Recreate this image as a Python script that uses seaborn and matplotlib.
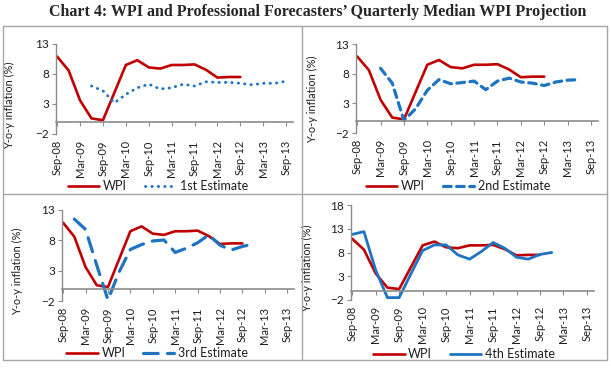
import numpy as np
import pandas as pd
import seaborn as sns
import matplotlib
matplotlib.use('Agg')
import matplotlib.pyplot as plt
from matplotlib.lines import Line2D

nan = np.nan

# Quarterly categories and values
quarters = ['Sep-08', 'Dec-08', 'Mar-09', 'Jun-09', 'Sep-09', 'Dec-09', 'Mar-10',
            'Jun-10', 'Sep-10', 'Dec-10', 'Mar-11', 'Jun-11', 'Sep-11', 'Dec-11',
            'Mar-12', 'Jun-12', 'Sep-12', 'Dec-12', 'Mar-13', 'Jun-13', 'Sep-13']

wpi = [10.9, 8.6, 3.6, 0.6, 0.3, 4.9, 9.5, 10.3, 9.1, 8.9, 9.5, 9.5, 9.6, 8.7,
       7.4, 7.5, 7.5, nan, nan, nan, nan]
est1 = [nan, nan, nan, 6.0, 5.2, 3.2, 4.6, 5.7, 6.3, 5.5, 5.7, 6.3, 6.0, 6.7,
        6.6, 6.6, 6.45, 6.2, 6.45, 6.45, 6.8]
est2 = [nan, nan, 8.9, 6.4, 0.1, 2.1, 5.2, 7.0, 6.3, 6.5, 6.75, 5.3, 6.75, 7.25,
        6.6, 6.4, 6.0, 6.6, 6.9, 7.0, nan]
est3 = [nan, 11.5, 9.8, 3.9, -1.8, 2.8, 6.5, 7.3, 7.9, 8.05, 6.0, 6.7, 7.6, 8.9,
        7.2, 6.4, 7.0, 7.4, nan, nan, nan]
est4 = [11.8, 12.4, 4.3, -1.5, -1.5, 3.5, 8.4, 9.6, 9.6, 7.5, 6.6, 8.2, 10.1, 8.9,
        7.0, 6.6, 7.6, 8.0, nan, nan, nan]

est_names = ['1st Estimate', '2nd Estimate', '3rd Estimate', '4th Estimate']
est_values = [est1, est2, est3, est4]

df = pd.DataFrame({'pos': np.arange(len(quarters)), 'quarter': quarters, 'WPI': wpi})
for name, vals in zip(est_names, est_values):
    df[name] = vals

sns.set_style('white')
plt.rcParams['font.family'] = ['Lato', 'DejaVu Sans']

W, H = 611, 369
fig = plt.figure(figsize=(W / 100, H / 100), dpi=100)

red = '#C00000'
blue = '#1F74C2'
grey = '#8C8C8C'
txt = '#1E1E1E'

# panel boxes in pixels: left, right, top(ymax), bottom(ymin)
boxes = [(56, 293, 44, 134), (356, 598, 44, 133), (62, 294, 210, 301), (351, 594, 205, 300)]
ylims = [(-2, 13), (-2, 13), (-2, 13), (-2, 18)]
styles = [dict(linestyle=(0, (0.1, 2.1)), dash_capstyle='round', linewidth=2.1),
          dict(linestyle=(0, (2.4, 1.7)), dash_capstyle='round', linewidth=2.3),
          dict(linestyle=(0, (4.6, 2.9)), dash_capstyle='round', linewidth=2.3),
          dict(linestyle='-', linewidth=2.0)]
ylabel_pos = [(15, 105), (318, 99), (23, 271), (313, 268)]
legend_pos = [(158, 186), (458, 186), (157, 353), (464, 354)]

for i in range(4):
    l, r, t, b = boxes[i]
    ax = fig.add_axes([l / W, 1 - b / H, (r - l) / W, (b - t) / H])
    name = est_names[i]
    sns.lineplot(data=df, x='pos', y='WPI', color=red, linewidth=1.9, ax=ax, label='WPI')
    sns.lineplot(data=df, x='pos', y=name, color=blue, ax=ax, label=name, **styles[i])
    y0, y1 = ylims[i]
    # x axis sits on the zero line (set first: it resets the tick objects)
    ax.spines['bottom'].set_position(('data', 0))
    ax.set_xlim(-0.1, 20.6)
    ax.set_ylim(y0, y1)
    ax.set_yticks(np.arange(y0, y1 + 1, 5))
    ax.set_xticks(np.arange(0, len(quarters), 2))
    ax.set_xticklabels(quarters[::2], rotation=90, fontsize=8.0, color=txt)
    ax.tick_params(axis='y', labelsize=8.5, labelcolor=txt, direction='out',
                   length=3, width=0.8, color=grey, left=True, pad=2)
    # labels hang below the plot area
    px_per_unit = (b - t) / (y1 - y0)
    gap_px = (0 - y0) * px_per_unit + 5
    ax.tick_params(axis='x', direction='out', length=3, width=0.8, color=grey,
                   bottom=True, pad=(gap_px - 3) * 0.72)
    for s in ['top', 'right']:
        ax.spines[s].set_visible(False)
    ax.spines['left'].set_color(grey)
    ax.spines['bottom'].set_color(grey)
    ax.spines['left'].set_linewidth(1.0)
    ax.spines['bottom'].set_linewidth(1.2)
    ax.set_xlabel('')
    ax.set_ylabel('Y-o-y inflation (%)', fontsize=7.9, color=txt)
    lx, ly = ylabel_pos[i]
    ax.yaxis.set_label_coords(lx / W, 1 - ly / H, transform=fig.transFigure)
    gx, gy = legend_pos[i]
    ax.legend(loc='center', bbox_to_anchor=(gx / W, 1 - gy / H),
              bbox_transform=fig.transFigure, ncol=2, frameon=False, fontsize=9.0,
              handlelength=2.5, columnspacing=1.4, handletextpad=0.3,
              labelcolor=txt)

# panel frame lines
frame = dict(color='#A6A6A6', linewidth=1.0, transform=fig.transFigure)
for (x0, y0p, x1, y1p) in [(3, 26, 607, 26), (3, 360, 607, 360), (3, 26, 3, 360),
                           (607, 26, 607, 360), (302, 26, 302, 360), (3, 194, 607, 194)]:
    fig.add_artist(Line2D([x0 / W, x1 / W], [1 - y0p / H, 1 - y1p / H], **frame))

fig.text(318 / W, 1 - 12 / H,
         'Chart 4: WPI and Professional Forecasters\u2019 Quarterly Median WPI Projection',
         ha='center', va='center', fontsize=11.5, fontweight='bold',
         family=['Liberation Serif', 'DejaVu Serif'])

fig.savefig('out.png', dpi=100)
